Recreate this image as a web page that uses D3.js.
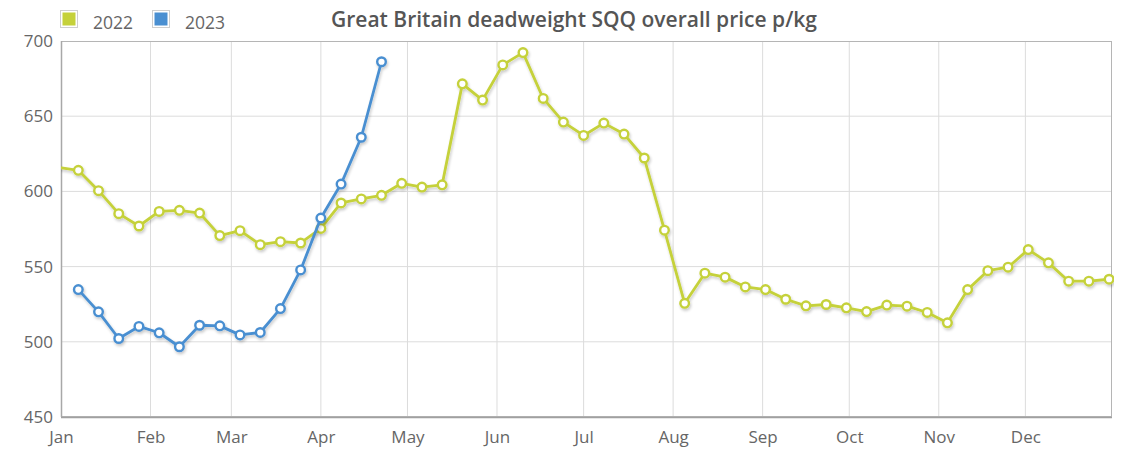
<!DOCTYPE html>
<html>
<head>
<meta charset="utf-8">
<script src="https://cdn.jsdelivr.net/npm/d3@7"></script>
<style>
  html, body { margin: 0; padding: 0; background: #fff; }
  svg { display: block; }
  text { font-family: "Open Sans", "DejaVu Sans", sans-serif; }
</style>
</head>
<body>
<svg id="chart" width="1127" height="451"></svg>
<script>
// ---- data ----
const weeks = ["12-31-prev","01-07","01-14","01-21","01-28","02-04","02-11","02-18","02-25","03-04","03-11","03-18","03-25",
  "04-01","04-08","04-15","04-22","04-29","05-06","05-13","05-20","05-27","06-03","06-10","06-17","06-24",
  "07-01","07-08","07-15","07-22","07-29","08-05","08-12","08-19","08-26","09-02","09-09","09-16","09-23","09-30",
  "10-07","10-14","10-21","10-28","11-04","11-11","11-18","11-25","12-02","12-09","12-16","12-23","12-30"];
const values2022 = [616,614,600.5,585.2,577,586.7,587.4,585.6,570.6,573.9,564.6,566.6,565.7,
  575.4,592.3,595,597.4,605.4,602.9,604.4,671.5,660.7,684.1,692.3,661.8,646.1,
  637.2,645.4,638.1,622.2,574.2,525.6,545.6,543,536.5,534.7,528.3,523.9,524.8,522.6,
  520.1,524.4,523.7,519.5,512.6,534.7,547.3,549.6,561.3,552.5,540.3,540.3,541.6];
const values2023 = [null,534.7,519.9,502.2,510.2,506,496.7,511,510.6,504.6,506.2,522.1,547.8,
  582.3,604.9,636,686.2];
const seriesNames = ["2022","2023"];
const seriesColors = ["#c5d13a","#4a8fd1"];
const yTicks = [450,500,550,600,650,700];
const monthLabels = ["Jan","Feb","Mar","Apr","May","Jun","Jul","Aug","Sep","Oct","Nov","Dec"];
const titleText = "Great Britain deadweight SQQ overall price p/kg";

// ---- layout ----
const svg = d3.select("#chart");
const L = 61, R = 1112, T = 41, B = 417;

function parseWeek(s) {
  if (s === "12-31-prev") return new Date(2021, 11, 31);
  const [m, d] = s.split("-").map(Number);
  return new Date(2022, m - 1, d);
}
const dates = weeks.map(parseWeek);

const x = d3.scaleTime().domain([new Date(2022,0,1), new Date(2022,11,31)]).range([L, R]);
const y = d3.scaleLinear().domain([450, 700]).range([B, T]);

const defs = svg.append("defs");
defs.append("clipPath").attr("id","plotclip").append("rect")
  .attr("x", L).attr("y", T - 8).attr("width", R - L + 2).attr("height", B - T + 16);
const f = defs.append("filter").attr("id","shadow").attr("x","-5%").attr("y","-5%").attr("width","110%").attr("height","120%");
f.append("feGaussianBlur").attr("in","SourceAlpha").attr("stdDeviation",1.6).attr("result","b");
f.append("feOffset").attr("in","b").attr("dx",1).attr("dy",2).attr("result","o");
f.append("feComponentTransfer").attr("in","o").attr("result","o2")
  .append("feFuncA").attr("type","linear").attr("slope",0.22);
const fm = f.append("feMerge");
fm.append("feMergeNode").attr("in","o2");
fm.append("feMergeNode").attr("in","SourceGraphic");

// gridlines
const monthDates = monthLabels.map((m, i) => new Date(2022, i, 1));
svg.append("g").selectAll("line.v").data(monthDates.slice(1)).join("line")
  .attr("x1", d => x(d)).attr("x2", d => x(d)).attr("y1", T).attr("y2", B)
  .attr("stroke", "#dcdcdc").attr("stroke-width", 1);
svg.append("g").selectAll("line.h").data(yTicks.slice(1, -1)).join("line")
  .attr("x1", L).attr("x2", R).attr("y1", d => y(d)).attr("y2", d => y(d))
  .attr("stroke", "#dcdcdc").attr("stroke-width", 1);

// border
svg.append("rect").attr("x", L + 0.5).attr("y", T + 0.5).attr("width", R - L - 1).attr("height", B - T - 1)
  .attr("fill", "none").attr("stroke", "#b5b5b5").attr("stroke-width", 1);
svg.append("line").attr("x1", L).attr("x2", R).attr("y1", B + 0.5).attr("y2", B + 0.5)
  .attr("stroke", "#a0a0a0").attr("stroke-width", 1.5);
svg.append("line").attr("x1", L + 0.5).attr("x2", L + 0.5).attr("y1", T).attr("y2", B)
  .attr("stroke", "#a8a8a8").attr("stroke-width", 1.5);

// axes
const yAxis = d3.axisLeft(y).tickValues(yTicks).tickSize(0).tickPadding(8);
const gy = svg.append("g").attr("transform", `translate(${L},0)`).call(yAxis);
gy.select(".domain").remove();
gy.selectAll("text").attr("fill", "#666").attr("font-size", 17).attr("font-family", '"Open Sans", sans-serif');

const xAxis = d3.axisBottom(x).tickValues(monthDates).tickFormat((d, i) => monthLabels[i]).tickSize(0).tickPadding(14);
const gx = svg.append("g").attr("transform", `translate(0,${B})`).call(xAxis);
gx.select(".domain").remove();
gx.selectAll("text").attr("fill", "#666").attr("font-size", 17).attr("font-family", '"Open Sans", sans-serif');

// series
const plot = svg.append("g").attr("clip-path", "url(#plotclip)");
const allValues = [values2022, values2023];
allValues.forEach((vals, si) => {
  const pts = vals.map((v, i) => ({ d: dates[i], v })).filter(p => p.v !== null);
  const line = d3.line().x(p => x(p.d)).y(p => y(p.v));
  const g = plot.append("g").attr("filter", "url(#shadow)");
  g.append("path").datum(pts).attr("d", line)
    .attr("fill", "none").attr("stroke", seriesColors[si]).attr("stroke-width", 2.8)
    .attr("stroke-linejoin", "round");
  g.selectAll("circle").data(pts.filter(p => p.d >= x.domain()[0])).join("circle")
    .attr("cx", p => x(p.d)).attr("cy", p => y(p.v)).attr("r", 4.3)
    .attr("fill", "#fff").attr("stroke", seriesColors[si]).attr("stroke-width", 2.4);
});

// legend
const legendX = [60, 152];
seriesNames.forEach((name, i) => {
  const g = svg.append("g").attr("transform", `translate(${legendX[i]},10)`);
  g.append("rect").attr("x", 0.5).attr("y", 0.5).attr("width", 17).attr("height", 17)
    .attr("fill", "#fff").attr("stroke", "#cfcfcf");
  g.append("rect").attr("x", 2.5).attr("y", 2.5).attr("width", 13).attr("height", 13)
    .attr("fill", seriesColors[i]);
  g.append("text").attr("x", 33).attr("y", 19).attr("font-size", 17.5).attr("fill", "#666").text(name);
});

// title
svg.append("text").attr("x", 574).attr("y", 27).attr("text-anchor", "middle")
  .attr("font-size", 21).attr("font-weight", 600).attr("fill", "#555").text(titleText);
</script>
</body>
</html>
